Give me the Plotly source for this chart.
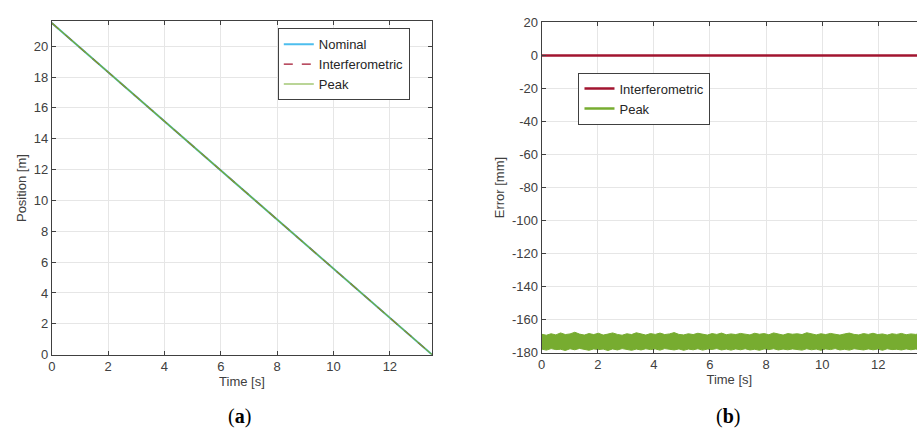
import numpy as np
import plotly.graph_objects as go

# ---- data (a) ----
t_a = [0, 13.5]
pos_nominal = [21.5, 0.0]
pos_interf = [21.5, 0.0]
pos_peak = [21.5, 0.0]

# ---- data (b) ----
t_b = [0, 13.5]
err_interf = [0.0, 0.0]
peak_upper = [-168.8, -169.4, -168.5, -169.2, -168.0, -169.0, -168.6, -167.6, -168.7, -169.3,
              -168.4, -169.0, -168.2, -169.3, -168.7, -168.0, -168.9, -169.4, -168.5, -169.0,
              -167.9, -168.8, -169.3, -168.4, -168.9, -168.1, -169.0, -168.6, -167.8, -168.9,
              -169.2, -168.5, -169.0, -168.2, -168.8, -169.3, -168.4, -168.9, -168.1, -169.1,
              -168.6, -169.0, -168.3, -168.9, -169.2, -168.2, -168.8, -168.4, -169.1, -168.0,
              -168.8, -169.3, -168.4, -168.8, -168.5, -169.0, -167.9, -168.7, -169.2, -168.5,
              -169.0, -168.3, -168.8, -169.3, -168.6, -168.1, -168.9, -169.2, -168.4, -168.9,
              -168.2, -169.0, -168.6, -169.3, -168.5, -168.9, -168.3, -169.1, -168.6, -168.9,
              -168.4]
peak_lower = [-177.8, -178.4, -177.5, -178.1, -177.9, -178.6, -177.6, -178.2, -177.4, -178.0,
              -178.5, -177.7, -178.1, -177.8, -178.6, -177.7, -178.3, -177.5, -178.0, -178.5,
              -177.8, -178.3, -177.6, -178.1, -177.7, -178.4, -177.5, -178.0, -178.3, -177.7,
              -178.5, -177.8, -178.2, -177.6, -178.4, -177.8, -178.0, -177.5, -178.3, -177.8,
              -178.4, -177.7, -178.2, -177.6, -178.3, -177.9, -178.5, -177.7, -178.1, -177.6,
              -178.3, -177.8, -178.2, -177.7, -178.0, -178.4, -177.6, -178.2, -177.8, -178.5,
              -177.7, -178.1, -177.5, -178.3, -177.9, -178.4, -177.6, -178.0, -178.3, -177.7,
              -178.2, -177.8, -178.5, -177.6, -178.1, -177.9, -178.3, -177.7, -178.2, -177.8,
              -178.0]
t_env = np.linspace(0, 13.5, len(peak_upper))

ticks_a_x = [0, 2, 4, 6, 8, 10, 12]
ticks_a_y = [0, 2, 4, 6, 8, 10, 12, 14, 16, 18, 20]
ticks_b_y = [20, 0, -20, -40, -60, -80, -100, -120, -140, -160, -180]
ticks_b_y_text = ["20", "0", "-20", "-40", "-60", "-80", "-100", "-120", "-140", "-160", "-180"]

BLUE = "#4DBEEE"
RED = "#A2142F"
GREEN = "#77AC30"
AX = "#404040"
GRID = "#e6e6e6"
FONT = "Liberation Sans"
TFS = 13

fig = go.Figure()

fig.add_trace(go.Scatter(x=t_a, y=pos_nominal, mode="lines", name="Nominal",
                         line=dict(color=BLUE, width=2), xaxis="x", yaxis="y", legend="legend"))
fig.add_trace(go.Scatter(x=t_a, y=pos_interf, mode="lines", name="Interferometric",
                         line=dict(color=RED, width=1.2, dash="dash"), xaxis="x", yaxis="y", legend="legend"))
fig.add_trace(go.Scatter(x=t_a, y=pos_peak, mode="lines", name="Peak",
                         line=dict(color=GREEN, width=1.2), xaxis="x", yaxis="y", legend="legend"))

fig.add_trace(go.Scatter(x=t_env, y=peak_lower, mode="lines", showlegend=False,
                         line=dict(color=GREEN, width=1), xaxis="x2", yaxis="y2", hoverinfo="skip"))
fig.add_trace(go.Scatter(x=t_env, y=peak_upper, mode="lines", showlegend=False, fill="tonexty",
                         fillcolor=GREEN, line=dict(color=GREEN, width=1), xaxis="x2", yaxis="y2",
                         hoverinfo="skip"))
fig.add_trace(go.Scatter(x=t_b, y=err_interf, mode="lines", name="Interferometric",
                         line=dict(color=RED, width=2.5), xaxis="x2", yaxis="y2", legend="legend2"))
fig.add_trace(go.Scatter(x=[None], y=[None], mode="lines", name="Peak",
                         line=dict(color=GREEN, width=2.5), xaxis="x2", yaxis="y2", legend="legend2"))

common = dict(showline=True, linecolor=AX, linewidth=1, ticks="inside", ticklen=4,
              tickcolor=AX, tickfont=dict(family=FONT, size=TFS, color=AX),
              showgrid=True, gridcolor=GRID, gridwidth=1, zeroline=False)
tfont = dict(family=FONT, size=TFS, color=AX)

fig.update_layout(
    width=917, height=438,
    margin=dict(l=0, r=0, t=0, b=0),
    paper_bgcolor="white", plot_bgcolor="white",
    xaxis=dict(domain=[48/917, 430/917], range=[0, 13.5], tickvals=ticks_a_x, mirror="ticks",
               title=dict(text="Time [s]", font=tfont, standoff=2),
               anchor="y", **common),
    yaxis=dict(domain=[1-360/438, 1-15/438], range=[0, 21.6], tickvals=ticks_a_y, mirror="ticks",
               title=dict(text="Position [m]", font=tfont, standoff=4),
               anchor="x", **common),
    xaxis2=dict(domain=[540/917, 1.0], range=[0, 13.38], tickvals=ticks_a_x, mirror="ticks",
                title=dict(text="Time [s]", font=tfont, standoff=2),
                anchor="y2", **common),
    yaxis2=dict(domain=[1-358/438, 1-16/438], range=[-180, 20], tickvals=ticks_b_y,
                ticktext=ticks_b_y_text, mirror=False,
                title=dict(text="Error [mm]", font=tfont, standoff=4),
                anchor="x2", **common),
    legend=dict(x=275/917, y=1-22/438, xanchor="left", yanchor="top",
                bgcolor="white", bordercolor=AX, borderwidth=1, traceorder="normal",
                font=dict(family=FONT, size=13, color="#262626"), itemwidth=30,
                tracegroupgap=0),
    legend2=dict(x=577/917, y=1-68/438, xanchor="left", yanchor="top",
                 bgcolor="white", bordercolor=AX, borderwidth=1, traceorder="normal",
                 font=dict(family=FONT, size=13, color="#262626"), itemwidth=30,
                 tracegroupgap=0),
    annotations=[
        dict(text="(<b>a</b>)", x=237/917, y=1-424/438, xref="paper", yref="paper",
             xanchor="center", yanchor="middle",
             showarrow=False, font=dict(family="Liberation Serif", size=20, color="black")),
        dict(text="(<b>b</b>)", x=727/917, y=1-424/438, xref="paper", yref="paper",
             xanchor="center", yanchor="middle",
             showarrow=False, font=dict(family="Liberation Serif", size=20, color="black")),
    ],
)

fig.write_html("out.html")
